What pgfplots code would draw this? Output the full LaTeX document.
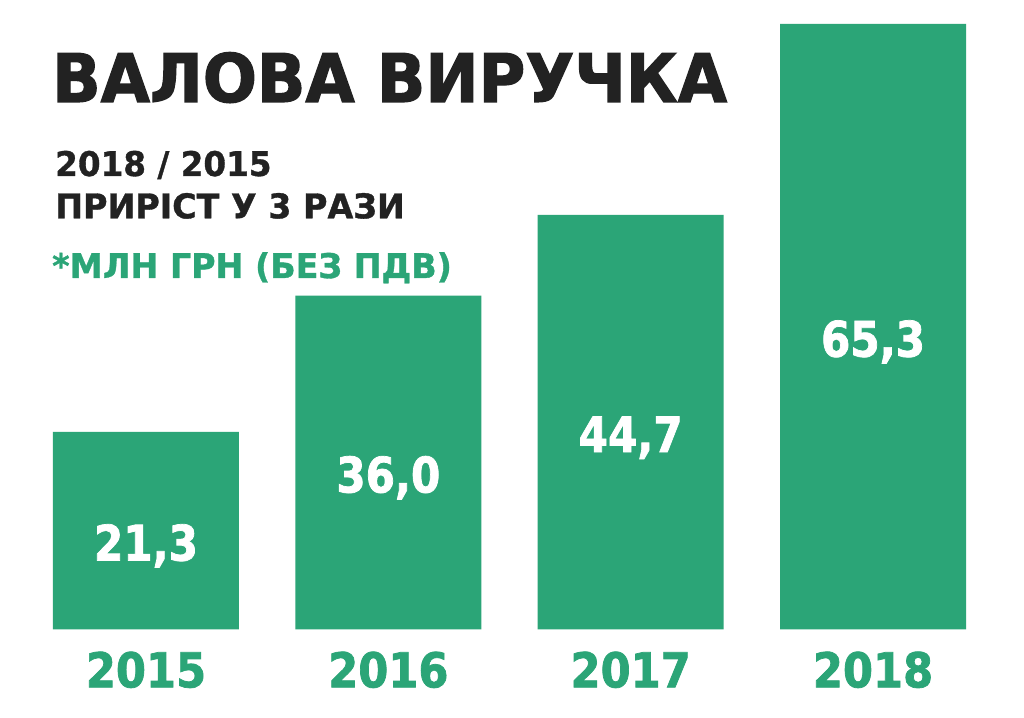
\documentclass[border=0pt]{standalone}
\usepackage{fontspec}
\setmainfont{DejaVu Sans}
\usepackage{pgfplots}
\usepackage{pgfplotstable}
\pgfplotsset{compat=1.18}
\definecolor{barg}{HTML}{2BA577}
\definecolor{txt}{HTML}{222222}
\pgfplotstableread{
x y lab
0 21.3 21,3
1 36.0 36,0
2 44.7 44,7
3 65.3 65,3
}\revenue
\begin{document}
\begin{tikzpicture}[x=1pt,y=1pt]
\useasboundingbox (0,0) rectangle (1024,717);
\fill[white] (0,0) rectangle (1024,717);
\begin{axis}[
  at={(53pt,87.7pt)}, anchor=south west,
  scale only axis, width=913pt, height=605.3pt,
  xmin=-0.3837, xmax=3.3837, ymin=0, ymax=65.3,
  axis line style={draw=none}, tick style={draw=none},
  ytick=\empty, xtick=data,
  xticklabels={2015,2016,2017,2018},
  xticklabel style={font=\bfseries\fontsize{48}{48}\selectfont\addfontfeatures{FakeStretch=0.9,FakeBold=1.5}, text=barg, anchor=base, yshift=-58pt},
  clip=false,
]
\addplot[ybar, bar width=186pt, bar shift=0pt, fill=barg, draw=none,
  point meta=explicit symbolic,
  visualization depends on={y \as \rawy},
  nodes near coords,
  nodes near coords style={font=\bfseries\fontsize{49}{49}\selectfont\addfontfeatures{FakeStretch=0.86,FakeBold=1.5}, text=white, anchor=base,
    shift={(axis direction cs:0,-\rawy/2)}, yshift=-30pt},
] table[x=x, y=y, meta=lab] {\revenue};
\end{axis}
\node[anchor=base west, inner sep=0, text=txt, font=\bfseries\fontsize{67}{67}\selectfont\addfontfeatures{FakeStretch=0.95,FakeBold=1.8}] at (52,615) {ВАЛОВА ВИРУЧКА};
\node[anchor=base west, inner sep=0, text=txt, font=\bfseries\fontsize{34}{34}\selectfont\addfontfeatures{FakeStretch=0.96,FakeBold=1}] at (55,541) {2018 / 2015};
\node[anchor=base west, inner sep=0, text=txt, font=\bfseries\fontsize{34}{34}\selectfont\addfontfeatures{FakeStretch=0.98,FakeBold=1}] at (55,498.7) {ПРИРІСТ У 3 РАЗИ};
\node[anchor=base west, inner sep=0, text=barg, font=\bfseries\fontsize{34}{34}\selectfont\addfontfeatures{FakeStretch=0.98,FakeBold=1}] at (52,439) {*МЛН ГРН (БЕЗ ПДВ)};
\end{tikzpicture}
\end{document}
